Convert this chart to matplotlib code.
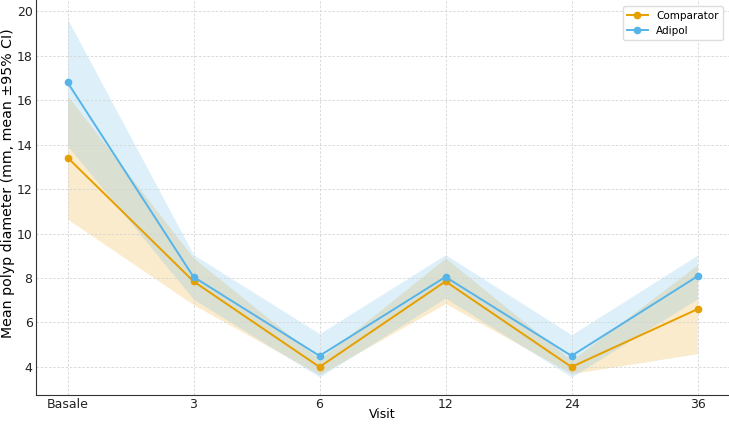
import matplotlib
matplotlib.use('Agg')
import matplotlib.pyplot as plt
import numpy as np

visits = ['Basale', '3', '6', '12', '24', '36']

comp_mean = [13.42, 7.85, 4.0, 7.85, 4.0, 6.6]
comp_lo = [10.65, 6.8, 3.65, 6.85, 3.7, 4.6]
comp_hi = [16.2, 8.9, 4.35, 8.9, 4.3, 8.6]

adip_mean = [16.8, 8.05, 4.5, 8.05, 4.5, 8.08]
adip_lo = [13.95, 7.05, 3.55, 7.1, 3.55, 7.06]
adip_hi = [19.65, 9.05, 5.5, 9.05, 5.45, 9.03]

orange = '#E69F00'
blue = '#56B4E9'

x = np.arange(len(visits))

fig = plt.figure(figsize=(7.29, 4.26), dpi=100)
ax = fig.add_axes([0.0494, 0.0728, 0.9506, 0.927])

ax.fill_between(x, comp_lo, comp_hi, color=orange, alpha=0.2, linewidth=0)
ax.fill_between(x, adip_lo, adip_hi, color=blue, alpha=0.2, linewidth=0)
ax.plot(x, comp_mean, color=orange, marker='o', markersize=4.5, linewidth=1.4, label='Comparator')
ax.plot(x, adip_mean, color=blue, marker='o', markersize=4.5, linewidth=1.4, label='Adipol')

ax.set_xticks(x)
ax.set_xticklabels(visits)
ax.set_yticks([4, 6, 8, 10, 12, 14, 16, 18, 20])
ax.set_xlim(-0.25, 5.25)
ax.set_ylim(2.74, 20.5)
ax.set_xlabel('Visit', fontsize=9)
ax.set_ylabel('Mean polyp diameter (mm, mean ±95% CI)', fontsize=10.2)
ax.xaxis.set_label_coords(0.5, -0.032)
ax.yaxis.set_label_coords(-0.031, 0.537)
ax.tick_params(length=0, labelsize=9, pad=2.5, colors='#222222')
ax.grid(True, linestyle=(0, (3, 2)), color='#d5d5d5', linewidth=0.6)
ax.spines['top'].set_visible(False)
ax.spines['right'].set_visible(False)
for s in ['left', 'bottom']:
    ax.spines[s].set_color('#333333')
ax.legend(loc='upper right', fontsize=7.5, framealpha=1, edgecolor='#dddddd',
          borderaxespad=0.6)

fig.savefig('out.png', dpi=100)
